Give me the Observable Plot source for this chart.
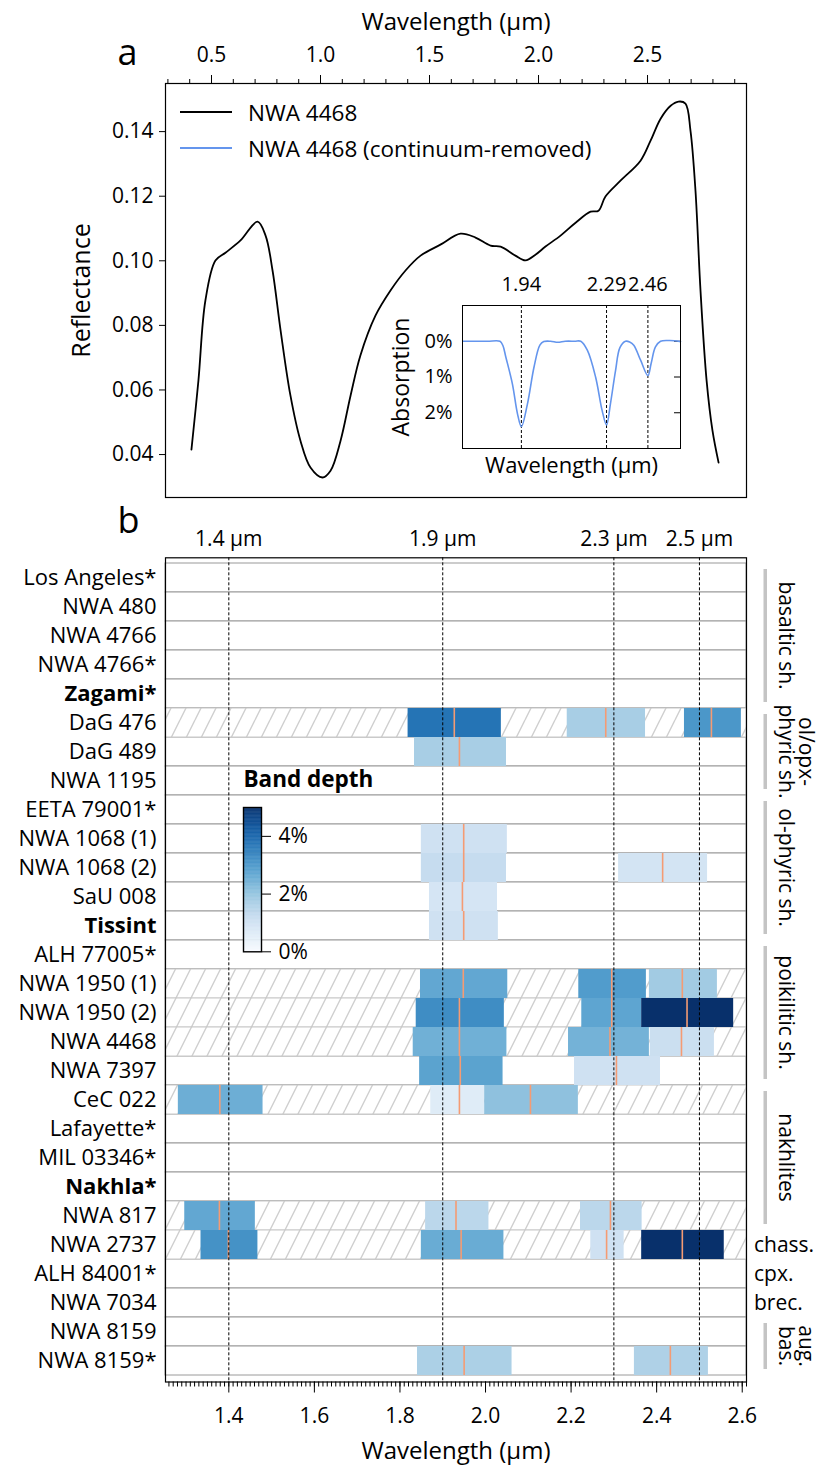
<!DOCTYPE html>
<html>
<head>
<meta charset="utf-8">
<script src="https://cdn.jsdelivr.net/npm/d3@7"></script>
<script src="https://cdn.jsdelivr.net/npm/@observablehq/plot@0.6"></script>
<style>
  body { margin: 0; background: #fff; }
  #root { position: relative; width: 821px; height: 1470px; overflow: hidden; background: #fff; font-family: "Open Sans", "Noto Sans", sans-serif; }
  #root > * { position: absolute; }
</style>
</head>
<body>
<div id="root"></div>
<script>
const FONT = '"Open Sans", "Noto Sans", sans-serif';

// ---------- Panel a: reflectance spectrum of NWA 4468 ----------
const reflWavelength = [0.408,0.440,0.472,0.518,0.564,0.633,0.711,0.748,0.780,0.817,0.862,0.908,0.954,1.009,1.046,1.092,1.138,1.183,1.252,1.321,1.390,1.459,1.550,1.642,1.711,1.780,1.826,1.894,1.940,1.986,2.032,2.101,2.170,2.239,2.275,2.307,2.376,2.468,2.514,2.560,2.606,2.642,2.674,2.697,2.720,2.743,2.771,2.798,2.826];
const reflValue = [0.0415,0.0629,0.0877,0.1001,0.1025,0.1063,0.1121,0.1078,0.0970,0.0784,0.0583,0.0443,0.0360,0.0329,0.0350,0.0443,0.0583,0.0707,0.0830,0.0908,0.0970,0.1016,0.1050,0.1084,0.1072,0.1047,0.1044,0.1016,0.1001,0.1019,0.1044,0.1078,0.1118,0.1152,0.1155,0.1199,0.1248,0.1310,0.1372,0.1440,0.1480,0.1493,0.1487,0.1403,0.1217,0.0908,0.0629,0.0474,0.0375];
const reflTicks = [0.04,0.06,0.08,0.10,0.12,0.14];
const topMajorTicks = [0.5,1.0,1.5,2.0,2.5];
const topMinorTicks = [0.3,0.4,0.6,0.7,0.8,0.9,1.1,1.2,1.3,1.4,1.6,1.7,1.8,1.9,2.1,2.2,2.3,2.4,2.6,2.7,2.8,2.9];
const legendLabels = ["NWA 4468","NWA 4468 (continuum-removed)"];
const legendColors = ["#000000","#6495ed"];

// ---------- Inset: continuum-removed spectrum ----------
const crWavelength = [1.70,1.80,1.852,1.864,1.876,1.903,1.924,1.940,1.965,1.992,2.016,2.032,2.06,2.09,2.12,2.16,2.184,2.211,2.245,2.272,2.290,2.306,2.327,2.345,2.368,2.385,2.402,2.430,2.460,2.473,2.491,2.512,2.55,2.594];
const crAbsorption = [0,0,0,0.12,0.44,1.19,2.03,2.39,1.75,0.72,0.11,0.01,0,0.03,0,0,0,0.25,1.0,1.94,2.34,1.75,0.82,0.18,0,0.02,0.11,0.53,0.96,0.63,0.16,0,-0.02,0.01];
const insetBandCenters = [1.94,2.29,2.46];
const insetTicks = [0,1,2];

// ---------- Panel b: band depths ----------
const meteorites = ["Los Angeles*","NWA 480","NWA 4766","NWA 4766*","Zagami*","DaG 476","DaG 489","NWA 1195","EETA 79001*","NWA 1068 (1)","NWA 1068 (2)","SaU 008","Tissint","ALH 77005*","NWA 1950 (1)","NWA 1950 (2)","NWA 4468","NWA 7397","CeC 022","Lafayette*","MIL 03346*","Nakhla*","NWA 817","NWA 2737","ALH 84001*","NWA 7034","NWA 8159","NWA 8159*"];
const boldMeteorites = ["Zagami*","Tissint","Nakhla*"];
const hatchedMeteorites = ["DaG 476","NWA 1950 (1)","NWA 1950 (2)","NWA 4468","CeC 022","NWA 817","NWA 2737"];

const bandSample = ["DaG 476","DaG 476","DaG 476","DaG 489","NWA 1068 (1)","NWA 1068 (2)","NWA 1068 (2)","SaU 008","Tissint","NWA 1950 (1)","NWA 1950 (1)","NWA 1950 (1)","NWA 1950 (2)","NWA 1950 (2)","NWA 1950 (2)","NWA 4468","NWA 4468","NWA 4468","NWA 7397","NWA 7397","CeC 022","CeC 022","CeC 022","NWA 817","NWA 817","NWA 817","NWA 2737","NWA 2737","NWA 2737","NWA 2737","NWA 8159*","NWA 8159*"];
const bandStart  = [1.819,2.191,2.465,1.834,1.850,1.850,2.311,1.869,1.869,1.848,2.218,2.383,1.838,2.225,2.365,1.831,2.194,2.385,1.846,2.208,1.282,1.872,1.998,1.297,1.860,2.222,1.335,1.850,2.246,2.365,1.841,2.348];
const bandEnd    = [2.037,2.374,2.598,2.049,2.051,2.049,2.519,2.028,2.030,2.052,2.376,2.542,2.044,2.365,2.580,2.050,2.383,2.535,2.041,2.409,1.480,1.998,2.217,1.462,2.008,2.366,1.468,2.043,2.324,2.558,2.062,2.521];
const bandCenter = [1.927,2.281,2.528,1.939,1.949,1.949,2.414,1.946,1.949,1.948,2.295,2.460,1.939,2.295,2.471,1.939,2.291,2.458,1.941,2.306,1.379,1.939,2.105,1.378,1.931,2.292,1.399,1.943,2.283,2.460,1.950,2.432];
const bandDepth  = [3.7,1.7,3.0,1.7,1.0,1.2,0.9,0.85,1.0,2.65,2.9,1.8,3.2,2.7,5.0,2.45,2.4,1.1,2.75,1.0,2.5,0.6,2.05,2.65,1.4,1.4,3.1,2.55,1.0,5.0,1.65,1.6];

const referenceBands = [1.4,1.9,2.3,2.5];
const bottomLabelTicks = [1.4,1.6,1.8,2.0,2.2,2.4,2.6];
const bottomMinorTicks = d3.range(126, 262).map(d => d / 100);
const depthTicks = [0,2,4];
const depthDomain = [0,5];

const groupLines   = [["basaltic sh."],["ol/opx-","phyric sh."],["ol-phyric sh."],["poikilitic sh."],["nakhlites"],["chass."],["cpx."],["brec."],["aug.","bas."]];
const groupFirst   = ["Los Angeles*","DaG 476","EETA 79001*","ALH 77005*","CeC 022","NWA 2737","ALH 84001*","NWA 7034","NWA 8159"];
const groupLast    = ["Zagami*","NWA 1195","Tissint","NWA 7397","NWA 817","NWA 2737","ALH 84001*","NWA 7034","NWA 8159*"];
const groupRotated = [true,true,true,true,true,false,false,false,true];

// ---------- build tables ----------
const reflData = reflWavelength.map((w, i) => ({w, r: reflValue[i]}));
const crData = crWavelength.map((w, i) => ({w, a: crAbsorption[i]}));
const bands = bandSample.map((s, i) => ({sample: s, start: bandStart[i], end: bandEnd[i], center: bandCenter[i], depth: bandDepth[i]}));

const root = document.getElementById("root");
function place(node, left, top) {
  node.style.left = left + "px";
  node.style.top = top + "px";
  root.appendChild(node);
}

// ---------- Panel a ----------
const topPlot = Plot.plot({
  width: 821, height: 510,
  marginLeft: 165, marginRight: 75, marginTop: 83, marginBottom: 13,
  style: {fontFamily: FONT, fontSize: "21px", background: "transparent", overflow: "visible", color: "black"},
  x: {domain: [0.289, 2.954]},
  y: {domain: [0.0267, 0.1549]},
  marks: [
    Plot.axisX({anchor: "top", ticks: topMinorTicks, tickSize: 5, tickFormat: () => "", label: null}),
    Plot.axisX({anchor: "top", ticks: topMajorTicks, tickSize: 9, tickPadding: 13, tickFormat: d3.format(".1f"), label: null}),
    Plot.axisY({anchor: "left", ticks: reflTicks, tickSize: 6, tickPadding: 6, tickFormat: d3.format(".2f"), label: null}),
    Plot.line(reflData, {x: "w", y: "r", stroke: "black", strokeWidth: 1.8, curve: "catmull-rom"}),
    Plot.frame({stroke: "black", strokeWidth: 1.2}),
    Plot.text(["Wavelength (µm)"], {text: d => d, frameAnchor: "top", lineAnchor: "middle", dy: -61, fontSize: 24}),
    Plot.text(["Reflectance"], {text: d => d, frameAnchor: "left", textAnchor: "middle", dx: -84, rotate: -90, fontSize: 25}),
    Plot.text(["a"], {text: d => d, frameAnchor: "top-left", lineAnchor: "middle", dx: -48, dy: -30, fontSize: 36})
  ]
});
place(topPlot, 0, 0);

// legend (HTML)
const legend = document.createElement("div");
legend.style.fontSize = "22.5px";
legendLabels.forEach((lab, i) => {
  const row = document.createElement("div");
  row.style.display = "flex"; row.style.alignItems = "center"; row.style.height = "36px";
  row.innerHTML = `<svg width="70" height="10"><line x1="2" x2="54" y1="5" y2="5" stroke="${legendColors[i]}" stroke-width="2"/></svg><span>${lab}</span>`;
  legend.appendChild(row);
});
place(legend, 178, 94);

// ---------- Inset ----------
const inset = Plot.plot({
  width: 320, height: 215,
  marginLeft: 92, marginRight: 10, marginTop: 40, marginBottom: 32,
  style: {fontFamily: FONT, fontSize: "20px", background: "transparent", overflow: "visible", color: "black"},
  x: {domain: [1.698, 2.594]},
  y: {domain: [3, -1]},
  marks: [
    Plot.ruleX(insetBandCenters, {stroke: "black", strokeWidth: 1, strokeDasharray: "3,2"}),
    Plot.axisX({anchor: "top", ticks: insetBandCenters, tickSize: 0, tickPadding: 15, tickFormat: d3.format(".2f"), label: null}),
    Plot.axisY({anchor: "left", ticks: insetTicks, tickSize: 0, tickPadding: 10, tickFormat: d => d + "%", label: null}),
    Plot.axisY({anchor: "right", ticks: insetTicks, tickSize: 7, dx: -7, tickFormat: () => "", label: null}),
    Plot.line(crData, {x: "w", y: "a", stroke: "#6495ed", strokeWidth: 1.6, curve: "catmull-rom"}),
    Plot.frame({stroke: "black", strokeWidth: 1}),
    Plot.text(["Wavelength (µm)"], {text: d => d, frameAnchor: "bottom", dy: 24, fontSize: 22}),
    Plot.text(["Absorption"], {text: d => d, frameAnchor: "left", textAnchor: "middle", dx: -61, rotate: -90, fontSize: 23})
  ]
});
place(inset, 370, 265);

// ---------- Panel b ----------
const xDomain = [1.252, 2.61];
function hatchDefs() {
  const defs = d3.create("svg:defs");
  const p = defs.append("pattern").attr("id", "rowHatch").attr("patternUnits", "userSpaceOnUse")
    .attr("width", 15).attr("height", 30);
  p.append("rect").attr("width", 15).attr("height", 30).attr("fill", "white");
  p.append("path").attr("d", "M0,30L15,0M-15,30L0,0M15,30L30,0")
    .attr("stroke", "#cfcfcf").attr("stroke-width", 1.4).attr("fill", "none");
  return defs.node();
}
const normalNames = meteorites.filter(d => !boldMeteorites.includes(d));
const bottomPlot = Plot.plot({
  width: 821, height: 960,
  marginLeft: 165, marginRight: 75, marginTop: 47.3, marginBottom: 88.5,
  style: {fontFamily: FONT, fontSize: "21px", background: "transparent", overflow: "visible", color: "black"},
  x: {domain: xDomain},
  y: {domain: meteorites, padding: 0, axis: null},
  color: {type: "linear", scheme: "blues", domain: depthDomain},
  marks: [
    hatchDefs,
    Plot.barX(meteorites, {x1: () => xDomain[0], x2: () => xDomain[1], y: d => d, fill: "white", stroke: "#9a9a9a", strokeWidth: 1}),
    Plot.barX(hatchedMeteorites, {x1: () => xDomain[0], x2: () => xDomain[1], y: d => d, fill: "url(#rowHatch)", stroke: "#c8c8c8", strokeWidth: 1}),
    Plot.barX(bands, {x1: "start", x2: "end", y: "sample", fill: "depth"}),
    Plot.tickX(bands, {x: "center", y: "sample", stroke: "#f59b73", strokeWidth: 1.6}),
    Plot.ruleX(referenceBands, {stroke: "black", strokeWidth: 1, strokeDasharray: "3,2"}),
    Plot.frame({stroke: "black", strokeWidth: 1.2}),
    Plot.axisX({anchor: "top", ticks: referenceBands, tickSize: 0, tickPadding: 12, tickFormat: d => `${d} µm`, label: null}),
    Plot.axisX({anchor: "bottom", ticks: bottomMinorTicks, tickSize: 5, tickFormat: () => "", label: null}),
    Plot.axisX({anchor: "bottom", ticks: bottomLabelTicks, tickSize: 11, tickPadding: 15, tickFormat: d3.format(".1f"), label: null}),
    Plot.text(normalNames, {y: d => d, text: d => d, frameAnchor: "left", textAnchor: "end", dx: -9, fontSize: 22}),
    Plot.text(boldMeteorites, {y: d => d, text: d => d, frameAnchor: "left", textAnchor: "end", dx: -9, fontWeight: "bold", fontSize: 22}),
    Plot.text(["Wavelength (µm)"], {text: d => d, frameAnchor: "bottom", lineAnchor: "middle", dy: 69, fontSize: 24}),
    Plot.text(["b"], {text: d => d, frameAnchor: "top-left", lineAnchor: "middle", dx: -48, dy: -36, fontSize: 36})
  ]
});
place(bottomPlot, 0, 510);

// group annotations placed with the plot's own scales
{
  const ys = bottomPlot.scale("y");
  const xs = bottomPlot.scale("x");
  const bw = ys.bandwidth;
  const right = xs.apply(xDomain[1]);
  const g = d3.select(bottomPlot).append("g").attr("font-family", FONT).attr("font-size", 21);
  groupLines.forEach((lines, i) => {
    const y0 = ys.apply(groupFirst[i]);
    const y1 = ys.apply(groupLast[i]) + bw;
    const mid = (y0 + y1) / 2;
    if (groupRotated[i]) {
      g.append("rect").attr("x", right + 17.5).attr("y", y0 + 6).attr("width", 3.5).attr("height", y1 - y0 - 12).attr("fill", "#c4c4c4");
      const n = lines.length;
      lines.forEach((t, j) => {
        const cx = right + 40 + 20 * (n - 1 - j);
        g.append("text").attr("transform", `translate(${cx},${mid}) rotate(90)`)
          .attr("text-anchor", "middle").attr("dy", "0.35em").text(t);
      });
    } else {
      g.append("text").attr("x", right + 8).attr("y", mid).attr("text-anchor", "start").attr("dy", "0.35em").text(lines[0]);
    }
  });
}

// ---------- colour bar ----------
const rampStep = 0.02;
const ramp = d3.range(depthDomain[0], depthDomain[1], rampStep).map(v => ({v}));
const colorbar = Plot.plot({
  width: 100, height: 170,
  marginLeft: 1, marginRight: 81, marginTop: 10, marginBottom: 15.7,
  style: {fontFamily: FONT, fontSize: "21px", background: "transparent", overflow: "visible", color: "black"},
  y: {domain: depthDomain},
  color: {type: "linear", scheme: "blues", domain: depthDomain},
  marks: [
    Plot.rect(ramp, {y1: "v", y2: d => Math.min(d.v + rampStep * 1.6, depthDomain[1]), fill: "v"}),
    Plot.frame({stroke: "black", strokeWidth: 1.4}),
    Plot.axisY({anchor: "right", ticks: depthTicks, tickSize: 9, tickPadding: 8, tickFormat: d => d + "%", label: null}),
    Plot.text(["Band depth"], {text: d => d, frameAnchor: "top-left", textAnchor: "start", lineAnchor: "middle", dy: -28, fontWeight: "bold", fontSize: 22.5})
  ]
});
place(colorbar, 241.7, 796.7);
</script>
</body>
</html>
